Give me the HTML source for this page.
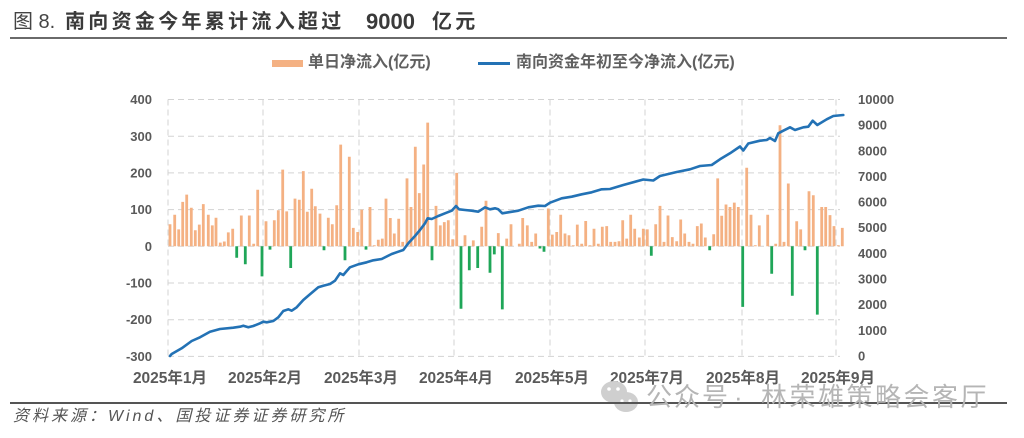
<!DOCTYPE html>
<html><head><meta charset="utf-8">
<style>
html,body{margin:0;padding:0;background:#fff;}
body{width:1024px;height:438px;position:relative;overflow:hidden;font-family:"Liberation Sans","Noto Sans CJK SC",sans-serif;}
.t{position:absolute;white-space:nowrap;}
</style></head><body>
<div class="t" style="left:13px;top:9px;font-size:20px;color:#444;line-height:26px;">图 8.</div>
<div class="t" style="left:65px;top:9px;font-size:20px;color:#3a3a3a;letter-spacing:3.3px;line-height:26px;font-weight:bold;">南向资金今年累计流入超过</div>
<div class="t" style="left:366px;top:8px;font-size:22px;color:#3a3a3a;font-weight:bold;line-height:27px;">9000</div>
<div class="t" style="left:432px;top:9px;font-size:20px;color:#3a3a3a;letter-spacing:3.3px;line-height:26px;font-weight:bold;">亿元</div>
<div style="position:absolute;left:10px;top:37px;width:997px;height:2px;background:#6a6a6a;"></div>
<div style="position:absolute;left:272px;top:60px;width:31px;height:7px;background:#F4B183;"></div>
<div class="t" style="left:308px;top:52px;font-size:16px;color:#606060;line-height:22px;font-weight:bold;">单日净流入(亿元)</div>
<div style="position:absolute;left:478px;top:62px;width:32px;height:3px;background:#2372b5;"></div>
<div class="t" style="left:516px;top:52px;font-size:16px;color:#606060;line-height:22px;font-weight:bold;">南向资金年初至今净流入(亿元)</div>
<svg width="1024" height="438" style="position:absolute;left:0;top:0;" xmlns="http://www.w3.org/2000/svg">
<path fill="none" stroke="#d3d3d3" stroke-width="1" stroke-dasharray="6,4" d="M168 99.5H840M168 136.2H840M168 172.9H840M168 209.6H840M168 246.3H840M168 283H840M168 319.7H840M168 356.4H840M168 99.5V356.4M263 99.5V356.4M359 99.5V356.4M454 99.5V356.4M550 99.5V356.4M645 99.5V356.4M742 99.5V356.4M836 99.5V356.4"/>
<g transform="translate(0,246.3)" fill="none" stroke-width="2.8">
<path stroke="#F4B183" d="M170 0V-22M174.7 0V-31.6M178.7 0V-16.9M182.7 0V-44.4M186.7 0V-51.7M191.3 0V-38.5M195.3 0V-16.1M199.3 0V-21.7M203.3 0V-42.2M208.3 0V-31.6M212.3 0V-20.9M216 0V-28.6M220.3 0V-3.7M224.3 0V-4.8M228.3 0V-13.9M232.7 0V-17.6M241.3 0V-30.8M249.3 0V-30.8M253.7 0V-2.6M257.7 0V-56.5M266 0V-25M274.3 0V-26.1M278.3 0V-36M282.7 0V-76.7M286.7 0V-34.9M295 0V-47.7M299.3 0V-46.6M303.3 0V-75.2M307.3 0V-34.5M311.7 0V-57.6M315.3 0V-40M320 0V-32.7M328.3 0V-28.6M332.3 0V-22M336.7 0V-41.1M340.7 0V-101.7M349.3 0V-89.5M353.3 0V-18.4M357.7 0V-14.3M361.7 0V-36.7M370 0V-39.3M374.3 0V-1.1M378.3 0V-6.6M382.3 0V-7.7M386 0V-47.7M390.3 0V-28.3M394.3 0V-12.8M398.7 0V-27.5M402.7 0V-4.4M407 0V-67.9M411 0V-39.3M415.3 0V-99.5M419.3 0V-53.2M423.7 0V-81.8M427.7 0V-123.7M436 0V-40.4M440.3 0V-20.9M444.3 0V-24.2M448.3 0V-26.1M452.7 0V-7M456.7 0V-73.4M465 0V-11M473.3 0V-5.9M481.7 0V-19.5M486 0V-45.5M498.3 0V-13.2M506.7 0V-7.7M511 0V-22M519.3 0V-2.6M522.7 0V-28.3M527.3 0V-20.9M531.7 0V-4.4M535.7 0V-12.8M548.3 0V-37.8M552.3 0V-11.7M556.7 0V-14.3M560.7 0V-31.6M565 0V-12.8M569 0V-11M573.3 0V-1.1M577.3 0V-21.7M581.7 0V-2.6M585.7 0V-25.3M590 0V-1.1M594 0V-17.6M598.3 0V-2.6M602.3 0V-19.5M606.7 0V-20.2M610.7 0V-4.4M615 0V-4.4M619 0V-5.1M622.7 0V-26.1M626.7 0V-7.7M630.7 0V-31.6M634.7 0V-17.6M639.3 0V-8.8M643.3 0V-17.6M647.3 0V-16.9M655.7 0V-22M660 0V-40.4M664 0V-4.4M668 0V-30.8M672.3 0V-9.2M676.7 0V-5.1M680.7 0V-26.8M684.7 0V-12.8M689 0V-4.4M693 0V-2.6M697.3 0V-20.2M701.3 0V-22.8M705.3 0V-8.8M713.7 0V-12.1M717.7 0V-67.9M721.7 0V-30.5M726 0V-41.8M730 0V-39.3M734.3 0V-43.7M738.3 0V-39.3M746.7 0V-78.5M751 0V-31.6M755.3 0V-1.1M759.3 0V-20.9M767.7 0V-31.6M775.7 0V-2.6M780 0V-121.1M784 0V-4.4M788.3 0V-62.8M796.7 0V-25M800.7 0V-16.9M809 0V-55.1M813.3 0V-51M821.7 0V-39.3M825.7 0V-39.3M830 0V-31.2M834 0V-20.2M838.3 0V-1.1M842.3 0V-18.4"/>
<path stroke="#1fa658" d="M236.7 0V11.4M245.3 0V18M262 0V30.1M270 0V3.3M290.7 0V21.7M324 0V4M345 0V13.9M366 0V3.3M432 0V13.9M461 0V62.4M469.3 0V23.9M477.7 0V21.7M490 0V26.4M494.3 0V8.1M502.3 0V63.1M540 0V2.2M544 0V5.5M651.3 0V9.5M709.7 0V4M742.7 0V60.6M771.7 0V27.5M792.3 0V49.5M805 0V4M817.3 0V68.3"/>
</g>
<polyline fill="none" stroke="#2372b5" stroke-width="2.6" stroke-linejoin="round" stroke-linecap="round" points="170,356 171.7,354 181.7,348.3 191.7,341 200,337.3 210,331.7 220,329 233.3,327.7 240,326.7 243.3,325.7 248.3,327.3 253.3,326 260,323.3 263.3,321.7 266.7,322.3 273.3,321 278.3,317.3 283.3,311 288.3,309.3 291.7,310.7 296.7,307.3 303.3,300 310,294.3 318.3,287.3 323.3,285.7 330,284 335,280.7 340,273.3 343.3,275 346.7,271 350,267.3 358.3,264.3 366.7,262.3 373.3,260.3 381.7,259 391.7,254 398.3,251.7 403.3,250 408.3,243.3 415,236 420,230 425,223.3 427.7,218.3 431.7,219 438.3,216 445,213.3 451.7,210.7 456,206 459,209.3 465,210 471.7,210.7 478.3,211.7 485,207.3 490,209.3 495,208.3 498.3,209.3 502.3,213.3 508.3,212.3 518.3,210.7 528.3,207.3 538.3,205.7 545,206 550,202.7 561.7,198.3 571.7,196.7 581.7,194.3 591.7,192.3 601.7,189.3 610,189 623.3,185 643.3,179.5 653.3,180.5 660,176 676.7,172 690,169.3 700,166 711.7,165 720,159.3 730,153.3 740,146.5 743.3,150.5 748.3,143.5 760,140.7 766.7,140 770,138 775,141 778.3,133.3 783.3,130.7 790,127.3 795,130 803.3,127.3 808.3,126.7 812.7,120.7 817.3,125 826.7,119.3 833.3,116 843.3,115"/>
<g font-family="Liberation Sans, sans-serif" font-size="13" font-weight="bold" fill="#5a5a5a" text-anchor="end">
<text x="152" y="104">400</text><text x="152" y="141">300</text><text x="152" y="177.5">200</text><text x="152" y="214">100</text><text x="152" y="251">0</text><text x="152" y="287.5">-100</text><text x="152" y="324">-200</text><text x="152" y="361">-300</text>
</g>
<g font-family="Liberation Sans, sans-serif" font-size="13" font-weight="bold" fill="#5a5a5a">
<text x="858" y="104">10000</text><text x="858" y="129.7">9000</text><text x="858" y="155.3">8000</text><text x="858" y="181">7000</text><text x="858" y="206.6">6000</text><text x="858" y="232.2">5000</text><text x="858" y="257.9">4000</text><text x="858" y="283.5">3000</text><text x="858" y="309.2">2000</text><text x="858" y="334.8">1000</text><text x="858" y="360.5">0</text>
</g>
<g font-family="Liberation Sans, Noto Sans CJK SC, sans-serif" font-size="15.5" font-weight="bold" fill="#5a5a5a" text-anchor="middle">
<text x="170" y="383">2025年1月</text><text x="265" y="383">2025年2月</text><text x="361" y="383">2025年3月</text><text x="456" y="383">2025年4月</text><text x="552" y="383">2025年5月</text><text x="647" y="383">2025年7月</text><text x="743" y="383">2025年8月</text><text x="838" y="383">2025年9月</text>
</g>
<ellipse cx="614" cy="392" rx="13" ry="11" fill="#cfcfcf"/>
<ellipse cx="626" cy="402" rx="12" ry="10" fill="#cfcfcf"/>
<g fill="#fff"><circle cx="609" cy="389" r="1.8"/><circle cx="618" cy="389" r="1.8"/><circle cx="622" cy="401" r="1.6"/><circle cx="630" cy="401" r="1.6"/></g>
</svg>
<div style="position:absolute;left:10px;top:402px;width:997px;height:1.6px;background:#555;"></div>
<div class="t" style="left:646px;top:381px;font-size:26px;color:#b5b5b5;line-height:32px;letter-spacing:2px;">公众号</div>
<div class="t" style="left:734px;top:381px;font-size:26px;color:#b5b5b5;line-height:32px;">·</div>
<div class="t" style="left:761px;top:381px;font-size:26px;color:#b5b5b5;line-height:32px;letter-spacing:2.5px;">林荣雄策略会客厅</div>
<div class="t" style="left:13px;top:406px;font-size:16px;color:#555;font-style:italic;letter-spacing:3px;line-height:22px;">资料来源：Wind、国投证券证券研究所</div>
</body></html>
